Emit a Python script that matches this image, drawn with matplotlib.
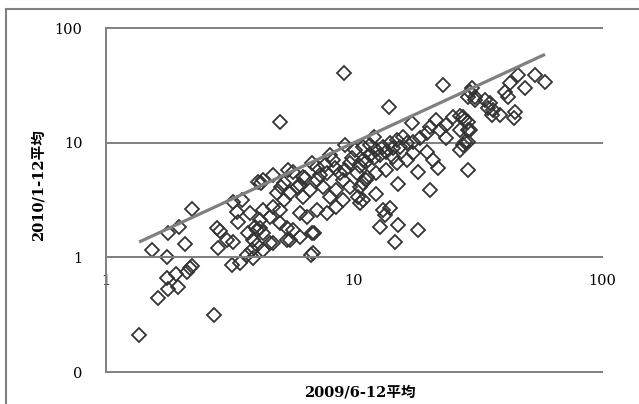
import matplotlib
matplotlib.use("Agg")
import matplotlib.pyplot as plt
from matplotlib.patches import Rectangle
from matplotlib.ticker import NullLocator

# 2009/6-12平均 (x) と 2010/1-12平均 (y)
x_vals = [
    2.22, 1.78, 1.97, 2.08, 1.53, 1.77, 1.76, 1.91, 1.78, 1.96, 1.62, 2.12, 2.18, 2.22, 1.36, 2.73,
    2.79, 2.88, 2.84, 3.07, 3.26, 3.21, 3.47, 3.41, 3.26, 3.53, 3.37, 3.8, 3.87, 3.99, 3.69, 3.93,
    4.3, 4.7, 3.75, 4.18, 6.85, 6.06, 5.35, 5.7, 4.1, 5.1, 5.03,
    9.2, 8.0, 8.2, 6.8, 7.1, 5.7, 5.4, 4.7, 4.3, 4.2, 9.6, 10.3, 10.9, 10.4, 9.6, 9.0, 8.5, 8.0,
    7.5, 7.1, 6.65, 6.2, 5.9, 5.5, 5.2, 5.03, 4.7, 4.58, 4.3, 4.18, 4.06, 4.3, 4.58, 4.06, 5.03,
    5.37, 5.52, 6.06, 6.45, 6.8, 7.1, 7.8, 8.5, 9.0, 10.6, 11.3, 6.2, 5.2, 4.9, 7.8, 8.8, 6.7, 6.9,
    3.9, 6.06, 6.35, 7.29, 7.64, 8.4, 9.2, 9.8, 10.1, 11.6,
    22.9, 13.9, 29.4, 30.8, 17.1, 12.0, 10.9, 21.5, 20.2, 22.2, 23.6, 25.1, 26.7, 28.0, 29.4, 26.7,
    23.6, 27.6, 26.7, 28.7, 28.9, 19.7, 18.5, 17.3, 16.3, 15.3, 14.4, 13.5, 12.7, 12.0, 11.2, 10.6,
    15.8, 14.9, 14.0, 13.1, 12.3, 11.6, 10.9, 19.7, 20.9, 21.9, 18.2, 15.1, 20.2, 12.3, 10.9, 10.6,
    13.1, 14.0, 13.3, 12.7, 15.1, 14.6, 18.2, 11.2, 12.3, 13.5, 14.9, 16.3, 17.3, 14.4,
    46.0, 53.7, 58.9, 42.6, 48.9, 40.6, 41.9, 29.8, 28.9, 30.8, 33.8, 35.3, 36.3, 38.8, 35.9, 34.6,
    44.6, 44.0, 27.6, 28.7, 28.9, 28.0, 9.1,
]
y_vals = [
    2.62, 1.64, 1.85, 1.30, 1.16, 1.0, 0.66, 0.71, 0.53, 0.556, 0.44, 0.75, 0.80, 0.84, 0.21, 0.315,
    1.80, 1.68, 1.2, 1.42, 1.37, 0.86, 0.89, 2.05, 3.06, 3.17, 2.5, 2.42, 1.16, 1.85, 1.05, 0.98,
    1.16, 1.33, 1.62, 1.8, 1.09, 1.51, 1.42, 1.73, 4.57, 4.1, 15.2,
    9.6, 7.8, 7.1, 6.65, 6.1, 5.55, 5.8, 5.2, 4.73, 4.45, 6.65, 5.4, 4.45, 3.36, 4.1, 4.73, 3.87, 3.36,
    4.1, 4.73, 3.87, 3.36, 4.1, 3.64, 3.17, 2.59, 2.75, 2.25, 2.59, 2.12, 1.73, 1.63, 1.34, 1.28, 2.0,
    1.82, 1.42, 2.44, 2.25, 1.63, 2.59, 2.44, 2.75, 3.17, 2.98, 5.0, 5.0, 4.45, 3.64, 5.45, 5.45, 1.05, 1.63,
    1.42, 4.28, 4.92, 5.2, 6.4, 6.0, 5.78, 7.4, 8.6, 9.55,
    31.8, 20.6, 27.8, 23.6, 14.8, 11.3, 9.2, 15.8, 13.8, 12.9, 14.3, 16.9, 17.2, 15.8, 12.9, 12.9,
    10.9, 9.55, 8.64, 10.2, 5.78, 12.1, 10.9, 10.2, 9.9, 9.2, 8.9, 8.35, 7.8, 7.3, 6.8, 6.2,
    11.3, 10.6, 9.9, 9.2, 8.64, 7.8, 7.07, 8.35, 7.07, 6.0, 5.6, 4.4, 3.87, 3.6, 3.17, 4.1,
    2.59, 2.68, 2.34, 1.85, 1.92, 1.37, 1.73, 4.73, 5.4, 5.78, 6.6, 7.07, 8.1, 7.55,
    38.9, 38.9, 34.0, 33.0, 29.8, 27.8, 25.2, 29.8, 25.2, 25.2, 23.6, 22.0, 19.3, 17.5, 17.5, 20.0,
    18.6, 16.3, 16.9, 15.2, 12.9, 10.2, 40.3,
]

y_ticks = [0.1, 1, 10, 100]
y_ticklabels = ["0", "1", "10", "100"]
x_ticks = [1, 10, 100]
x_ticklabels = ["1", "10", "100"]

fuente = ["DejaVu Serif", "Noto Sans CJK JP"]
gris = "#808080"

fig = plt.figure(figsize=(6.39, 4.04), dpi=100)
ax = fig.add_axes([106/639, 32/404, 496/639, 344/404])
ax.set_xscale("log")
ax.set_yscale("log")
ax.set_xlim(1, 100)
ax.set_ylim(0.1, 100)

for v in y_ticks:
    ax.axhline(v, color=gris, lw=1.4, clip_on=False, zorder=1)

ax.plot(x_vals, y_vals, linestyle="none", marker="D", ms=7, mfc="none",
        mec="#333333", mew=1.3, zorder=2)

# linea y = x
lx = [min(x_vals), max(x_vals)]
ax.plot(lx, lx, color=gris, lw=2.3, zorder=3, solid_capstyle="butt")

for s in ["top", "right"]:
    ax.spines[s].set_visible(False)
ax.spines["left"].set_color(gris)
ax.spines["left"].set_linewidth(1.4)
ax.spines["bottom"].set_position(("data", 1))
ax.spines["bottom"].set_color(gris)
ax.spines["bottom"].set_linewidth(1.4)

ax.xaxis.set_minor_locator(NullLocator())
ax.yaxis.set_minor_locator(NullLocator())
ax.set_yticks(y_ticks, y_ticklabels)
ax.set_xticks(x_ticks, x_ticklabels)
ax.tick_params(axis="y", length=0, pad=17)
ax.tick_params(axis="x", length=0, pad=12)
for t in ax.get_xticklabels() + ax.get_yticklabels():
    t.set_family(fuente)
    t.set_fontsize(10.5)

fig.text(39/639, 1 - 185/404, "2010/1-12平均", rotation=90, ha="center", va="center",
         family=fuente, fontsize=10.5, fontweight="bold")
fig.text(360/639, 1 - 392/404, "2009/6-12平均", ha="center", va="center",
         family=fuente, fontsize=10.5, fontweight="bold")

marco = Rectangle((6/639, -0.1), 1.2, 1.1 - 9/404, transform=fig.transFigure,
                  fill=False, edgecolor=gris, lw=1.5)
fig.add_artist(marco)

fig.savefig("out.png", dpi=100)
